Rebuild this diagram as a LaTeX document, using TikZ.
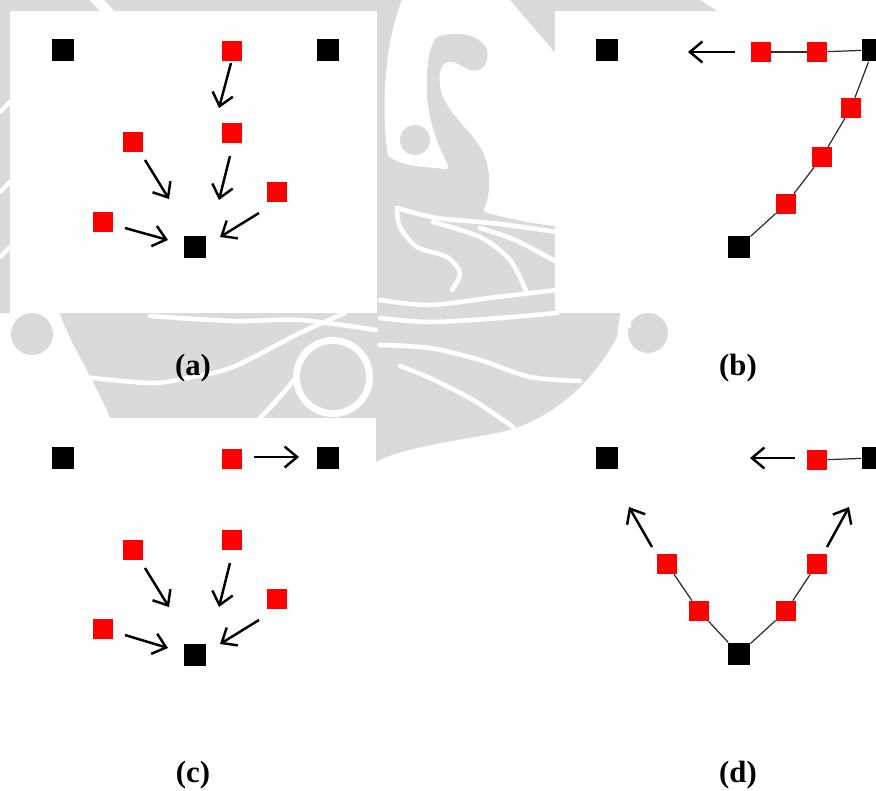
\documentclass[tikz,border=0pt]{standalone}
\usepackage{fontspec}
\setmainfont{Liberation Serif}
\usetikzlibrary{arrows.meta}
\definecolor{wm}{RGB}{218,218,218}
\definecolor{linkgray}{RGB}{45,45,45}
\begin{document}
\begin{tikzpicture}[x=0.02cm,y=-0.02cm,
  redsq/.style={fill=red, inner sep=0pt, minimum size=4mm},
  blksq/.style={fill=black, inner sep=0pt, minimum size=4.5mm},
  move/.style={line width=1.4pt, -{Straight Barb[length=2.5mm,width=4.2mm,line width=1.4pt]}},
  link/.style={draw=linkgray, line width=0.7pt},
  tag/.style={font=\fontsize{17.5}{20}\selectfont\bfseries},
  wmstripe/.style={draw=white, line width=2.6pt, line cap=round}
]
\useasboundingbox (0,0) rectangle (876,791);
\clip (0,0) rectangle (876,791);
\fill[white] (0,0) rectangle (876,791);

% ---------- faint emblem in the background ----------
\fill[wm] (0,0) -- (700,0) -- (717,11) -- (620,313) -- (617,337)
  .. controls (600,370) and (560,420) .. (497,433)
  .. controls (460,440) and (400,448) .. (376,462) -- (376,418) -- (110,418)
  .. controls (95,380) and (70,345) .. (60,313) -- (0,313) -- cycle;
\fill[wm] (32,334) circle[radius=4.2mm];
\fill[wm] (648,333) circle[radius=4mm];
% notches in the outer rim
\fill[white] (90,0) -- (104,0) -- (114,11) -- (100,11) -- cycle;
\draw[wmstripe] (0,112) -- (10,102);
\draw[wmstripe] (0,192) -- (10,182);
\draw[wmstripe] (0,257) -- (10,247);
\draw[wmstripe] (623,313) -- (629,326);
% hollow centre with the curl and the dot
\fill[white] (402,0) -- (510,0) -- (555,53) -- (555,226)
  .. controls (520,222) and (495,215) .. (485,212) -- (450,170)
  .. controls (430,166) and (400,168) .. (388,155)
  .. controls (382,120) and (382,50) .. (402,0) -- cycle;
\fill[wm] (437,37) .. controls (455,31) and (480,33) .. (487,50)
  .. controls (490,65) and (480,73) .. (470,70)
  .. controls (462,67) and (455,60) .. (447,62)
  .. controls (438,66) and (438,80) .. (442,95)
  .. controls (450,115) and (470,130) .. (482,150)
  .. controls (492,170) and (492,200) .. (480,215) -- (440,215) -- (448,165)
  .. controls (435,140) and (425,110) .. (427,80)
  .. controls (427,60) and (430,45) .. (437,37) -- cycle;
\fill[wm] (415,140) circle[radius=3mm];
% sweeping lines of the lower part
\draw[wmstripe] plot[smooth] coordinates {(397,208) (437,218) (500,224) (557,232)};
\draw[wmstripe] plot[smooth] coordinates {(433,222) (480,237) (510,260) (527,293)};
\draw[wmstripe] plot[smooth] coordinates {(480,228) (515,240) (557,262)};
\draw[wmstripe] plot[smooth] coordinates {(397,210) (400,227) (417,247) (447,257) (460,273) (452,290)};
\draw[wmstripe] plot[smooth] coordinates {(380,300) (430,305) (497,297) (557,290)};
\draw[wmstripe] plot[smooth] coordinates {(380,318) (430,322) (500,318) (557,313)};
\draw[wmstripe] plot[smooth] coordinates {(380,345) (430,348) (480,360) (530,377) (580,381)};
\draw[wmstripe] plot[smooth] coordinates {(400,366) (430,378) (473,400) (513,427)};
\draw[wmstripe] plot[smooth] coordinates {(150,316) (233,321) (300,320) (376,330)};
\draw[wmstripe] plot[smooth] coordinates {(83,377) (150,383) (187,378) (233,367) (300,333) (345,313)};
\draw[wmstripe] plot[smooth] coordinates {(260,418) (277,400) (300,373)};
\fill[white] (333,377) circle[radius=8mm];
\fill[wm] (333,377) circle[radius=6.6mm];

% ---------- white panels ----------
\fill[white] (10,11) rectangle (377,313);
\fill[white] (555,11) rectangle (876,313);
\fill[white] (0,418) rectangle (376,791);

% ---------- (a) ----------
\node[blksq] (aTL) at (63,50) {};
\node[blksq] (aTR) at (328,50) {};
\node[redsq] (a1) at (232,51) {};
\node[redsq] (a2) at (232,133) {};
\node[redsq] (a3) at (133,142) {};
\node[redsq] (a4) at (277,192) {};
\node[redsq] (a5) at (103,222) {};
\node[blksq] (aC) at (195,247) {};
\coordinate (a1s) at (231,63);  \coordinate (a1e) at (219,108);
\coordinate (a2s) at (230,156); \coordinate (a2e) at (219,200);
\coordinate (a3s) at (145,160); \coordinate (a3e) at (169,199);
\coordinate (a4s) at (259,213); \coordinate (a4e) at (220,237);
\coordinate (a5s) at (125,228); \coordinate (a5e) at (168,240);
\draw[move] (a1s) -- (a1e);
\draw[move] (a2s) -- (a2e);
\draw[move] (a3s) -- (a3e);
\draw[move] (a4s) -- (a4e);
\draw[move] (a5s) -- (a5e);
\node[tag] (la) at (193,368) {(a)};

% ---------- (b) ----------
\node[blksq] (bTL) at (607,50) {};
\node[redsq] (b1) at (761,52) {};
\node[redsq] (b2) at (817,52) {};
\node[blksq] (bR) at (873,50) {};
\node[redsq] (b3) at (851,108) {};
\node[redsq] (b4) at (822,157) {};
\node[redsq] (b5) at (786,204) {};
\node[blksq] (bB) at (739,247) {};
\draw[link] (b1) -- (b2);
\draw[link] (b2) -- (bR);
\draw[link] (bR) -- (b3);
\draw[link] (b3) -- (b4);
\draw[link] (b4) -- (b5);
\draw[link] (b5) -- (bB);
\coordinate (bs) at (735,52); \coordinate (be) at (688,52);
\draw[move] (bs) -- (be);
\node[tag] (lb) at (738,368) {(b)};

% ---------- (c) ----------
\node[blksq] (cTL) at (63,458) {};
\node[redsq] (c1) at (232,459) {};
\node[blksq] (cTR) at (328,458) {};
\node[redsq] (c2) at (232,540) {};
\node[redsq] (c3) at (133,550) {};
\node[redsq] (c4) at (277,599) {};
\node[redsq] (c5) at (103,629) {};
\node[blksq] (cC) at (195,655) {};
\coordinate (c1s) at (254,457); \coordinate (c1e) at (299,457);
\coordinate (c2s) at (230,563); \coordinate (c2e) at (219,607);
\coordinate (c3s) at (145,568); \coordinate (c3e) at (169,607);
\coordinate (c4s) at (259,620); \coordinate (c4e) at (220,644);
\coordinate (c5s) at (125,635); \coordinate (c5e) at (168,648);
\draw[move] (c1s) -- (c1e);
\draw[move] (c2s) -- (c2e);
\draw[move] (c3s) -- (c3e);
\draw[move] (c4s) -- (c4e);
\draw[move] (c5s) -- (c5e);
\node[tag] (lc) at (193,775) {(c)};

% ---------- (d) ----------
\node[blksq] (dTL) at (607,458) {};
\node[redsq] (d1) at (817,460) {};
\node[blksq] (dR) at (873,458) {};
\node[redsq] (d2) at (667,564) {};
\node[redsq] (d3) at (699,611) {};
\node[blksq] (dB) at (739,654) {};
\node[redsq] (d4) at (786,611) {};
\node[redsq] (d5) at (817,564) {};
\draw[link] (d1) -- (dR);
\draw[link] (d2) -- (d3);
\draw[link] (d3) -- (dB);
\draw[link] (dB) -- (d4);
\draw[link] (d4) -- (d5);
\coordinate (d1s) at (795,458); \coordinate (d1e) at (750,458);
\coordinate (d2s) at (652,547); \coordinate (d2e) at (629,507);
\coordinate (d5s) at (827,547); \coordinate (d5e) at (849,507);
\draw[move] (d1s) -- (d1e);
\draw[move] (d2s) -- (d2e);
\draw[move] (d5s) -- (d5e);
\node[tag] (ld) at (738,775) {(d)};
\end{tikzpicture}
\end{document}
